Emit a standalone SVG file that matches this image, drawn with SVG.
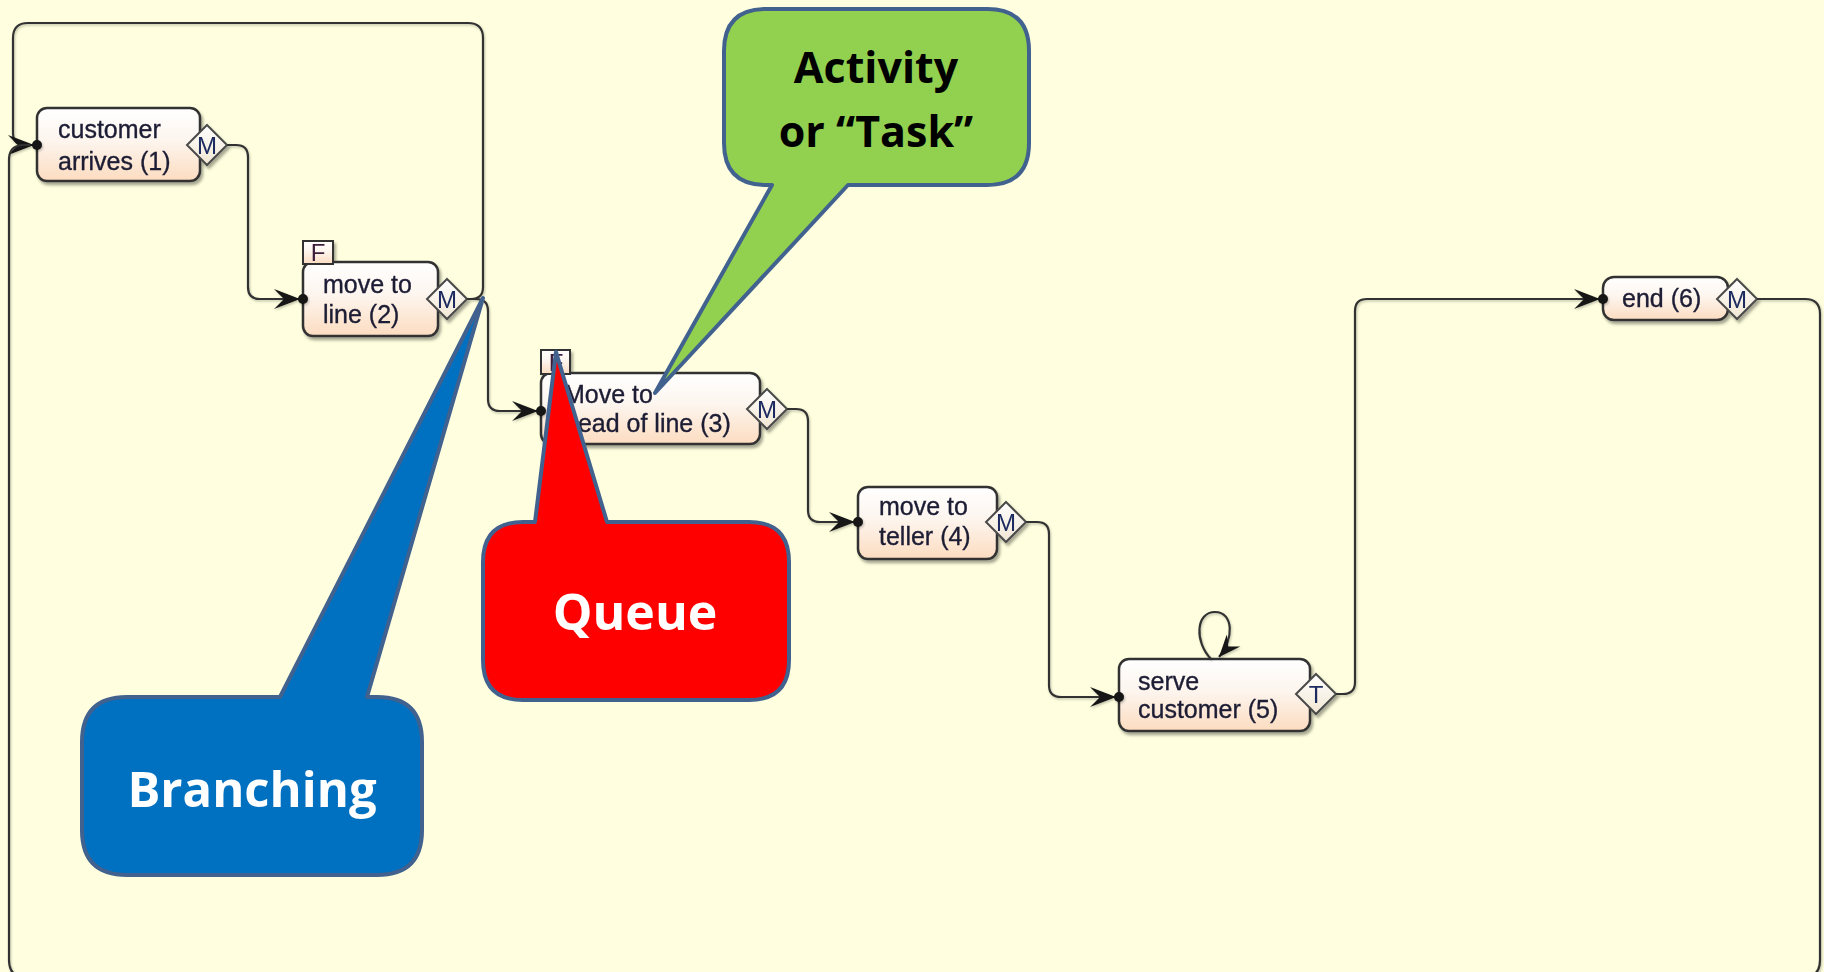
<svg xmlns="http://www.w3.org/2000/svg" width="1824" height="972" viewBox="0 0 1824 972">
  <defs>
    <linearGradient id="nodeFill" x1="0" y1="0" x2="0" y2="1">
      <stop offset="0" stop-color="#ffffff"/>
      <stop offset="0.45" stop-color="#fdf5ee"/>
      <stop offset="1" stop-color="#fcdcc0"/>
    </linearGradient>
    <linearGradient id="diaFill" x1="0" y1="0" x2="0" y2="1">
      <stop offset="0" stop-color="#ffffff"/>
      <stop offset="1" stop-color="#f1e6d3"/>
    </linearGradient>
    <filter id="shadow" x="-10%" y="-10%" width="130%" height="140%">
      <feDropShadow dx="2" dy="3" stdDeviation="1.6" flood-color="#000" flood-opacity="0.35"/>
    </filter>
    <filter id="lineShadow" x="-5%" y="-5%" width="110%" height="110%">
      <feDropShadow dx="1" dy="1.5" stdDeviation="0.8" flood-color="#000" flood-opacity="0.25"/>
    </filter>
    <!-- notched arrowhead plus the small port dot at the node edge -->
    <marker id="arr" markerUnits="userSpaceOnUse" markerWidth="40" markerHeight="28" viewBox="-33 -14 40 28" refX="0" refY="0" orient="auto">
      <path d="M-3,0 L-29,-10 L-19,0 L-29,10 Z" fill="#141414"/>
      <circle cx="0" cy="0" r="5" fill="#141414"/>
    </marker>
    <marker id="arrLoop" markerUnits="userSpaceOnUse" markerWidth="32" markerHeight="26" viewBox="-26 -13 32 26" refX="0" refY="0" orient="auto">
      <path d="M0,0 L-22,-9 L-14,0 L-22,9 Z" fill="#141414"/>
    </marker>
    <style>
      .node { fill: url(#nodeFill); stroke: #333; stroke-width: 2.5; }
      .flag { fill: url(#nodeFill); stroke: #333; stroke-width: 2; }
      .dia { fill: url(#diaFill); stroke: #4a4a4a; stroke-width: 2; }
      .lbl { font-family: "Liberation Sans", Arial, sans-serif; font-size: 25px; fill: #1c1c34; stroke: #1c1c34; stroke-width: 0.35; }
      .port { font-family: "Liberation Sans", Arial, sans-serif; font-size: 24px; fill: #1c2a60; text-anchor: middle; }
      .flagtxt { font-family: "Liberation Sans", Arial, sans-serif; font-size: 24px; fill: #3a1c3a; text-anchor: middle; }
      .wire { fill: none; stroke: #333; stroke-width: 2.2; }
      .callout { stroke: #41618f; stroke-width: 4; stroke-linejoin: round; }
      .ctext { font-family: "Open Sans", "Noto Sans", sans-serif; font-weight: bold; text-anchor: middle; }
    </style>
  </defs>

  <rect x="0" y="0" width="1824" height="972" fill="#ffffdf"/>

  <g id="node-customer-arrives" filter="url(#shadow)">
    <rect class="node" x="37" y="108" width="163" height="73" rx="10"/>
    <text class="lbl" x="58" y="138">customer</text>
    <text class="lbl" x="58" y="170">arrives (1)</text>
    <polygon class="dia" points="207,125 227,145 207,165 187,145"/>
    <text class="port" x="207" y="154">M</text>
  </g>

  <g id="node-move-to-line" filter="url(#shadow)">
    <rect class="node" x="303" y="262" width="135" height="74" rx="10"/>
    <rect class="flag" x="303" y="241" width="30" height="23"/>
    <text class="flagtxt" x="318" y="261">F</text>
    <text class="lbl" x="323" y="293">move to</text>
    <text class="lbl" x="323" y="323">line (2)</text>
    <polygon class="dia" points="447,279 467,299 447,319 427,299"/>
    <text class="port" x="447" y="308">M</text>
  </g>

  <g id="node-head-of-line" filter="url(#shadow)">
    <rect class="node" x="541" y="373" width="219" height="71" rx="10"/>
    <rect class="flag" x="541" y="350" width="29" height="24"/>
    <text class="flagtxt" x="556" y="371">F</text>
    <text class="lbl" x="564" y="403">Move to</text>
    <text class="lbl" x="564" y="432">head of line (3)</text>
    <polygon class="dia" points="767,389 787,409 767,429 747,409"/>
    <text class="port" x="767" y="418">M</text>
  </g>

  <g id="node-move-to-teller" filter="url(#shadow)">
    <rect class="node" x="858" y="487" width="139" height="72" rx="10"/>
    <text class="lbl" x="879" y="515">move to</text>
    <text class="lbl" x="879" y="545">teller (4)</text>
    <polygon class="dia" points="1006,502 1026,522 1006,542 986,522"/>
    <text class="port" x="1006" y="531">M</text>
  </g>

  <g id="node-serve-customer" filter="url(#shadow)">
    <rect class="node" x="1119" y="659" width="191" height="72" rx="10"/>
    <text class="lbl" x="1138" y="690">serve</text>
    <text class="lbl" x="1138" y="718">customer (5)</text>
    <polygon class="dia" points="1316,674 1336,694 1316,714 1296,694"/>
    <text class="port" x="1316" y="703" fill="#7a4a10">T</text>
  </g>

  <g id="node-end" filter="url(#shadow)">
    <rect class="node" x="1603" y="277" width="125" height="43" rx="11"/>
    <text class="lbl" x="1622" y="307">end (6)</text>
    <polygon class="dia" points="1737,279 1757,299 1737,319 1717,299"/>
    <text class="port" x="1737" y="308">M</text>
  </g>

  <!-- flow connectors -->
  <g id="connectors" filter="url(#lineShadow)">
    <path class="wire" d="M227,145 H236 Q248,145 248,157 V287 Q248,299 260,299 H303" marker-end="url(#arr)"/>
    <path class="wire" d="M467,299 H471 Q483,299 483,287 V38 Q483,23 468,23 H28 Q13,23 13,38 V133 Q13,145 25,145 H37" marker-end="url(#arr)"/>
    <path class="wire" d="M467,299 H476 Q488,299 488,311 V399 Q488,411 500,411 H541" marker-end="url(#arr)"/>
    <path class="wire" d="M787,409 H796 Q808,409 808,421 V510 Q808,522 820,522 H858" marker-end="url(#arr)"/>
    <path class="wire" d="M1026,522 H1037 Q1049,522 1049,534 V685 Q1049,697 1061,697 H1119" marker-end="url(#arr)"/>
    <path class="wire" d="M1336,694 H1343 Q1355,694 1355,682 V311 Q1355,299 1367,299 H1603" marker-end="url(#arr)"/>
    <path class="wire" d="M1211,659 C1194,641 1196,612 1215,612 C1234,612 1234,640 1219,657" marker-end="url(#arrLoop)"/>
    <path class="wire" d="M1757,299 H1805 Q1820,299 1820,314 V960 Q1820,978 1802,978 H27 Q9,978 9,960 V160 Q9,146 22,145 H30"/>
  </g>

  <g id="callout-activity">
    <path class="callout" fill="#92d050" d="M766,9 H987 Q1029,9 1029,51 V143 Q1029,185 987,185 H848 L655,393 L772,185 H766 Q724,185 724,143 V51 Q724,9 766,9 Z"/>
    <text class="ctext" x="876" y="83" font-size="43" fill="#000">Activity</text>
    <text class="ctext" x="876" y="147" font-size="43" fill="#000">or “Task”</text>
  </g>

  <g id="callout-queue">
    <path class="callout" fill="#ff0000" d="M523,522 H535 L556,352 L607,522 H749 Q789,522 789,562 V660 Q789,700 749,700 H523 Q483,700 483,660 V562 Q483,522 523,522 Z"/>
    <text class="ctext" x="635" y="630" font-size="50" fill="#ffffff">Queue</text>
  </g>

  <g id="callout-branching">
    <path class="callout" fill="#0070c0" d="M127,697 H280 L483,298 L367,697 H377 Q422,697 422,742 V830 Q422,875 377,875 H127 Q82,875 82,830 V742 Q82,697 127,697 Z"/>
    <text class="ctext" x="252" y="807" font-size="49" fill="#ffffff">Branching</text>
  </g>
</svg>
